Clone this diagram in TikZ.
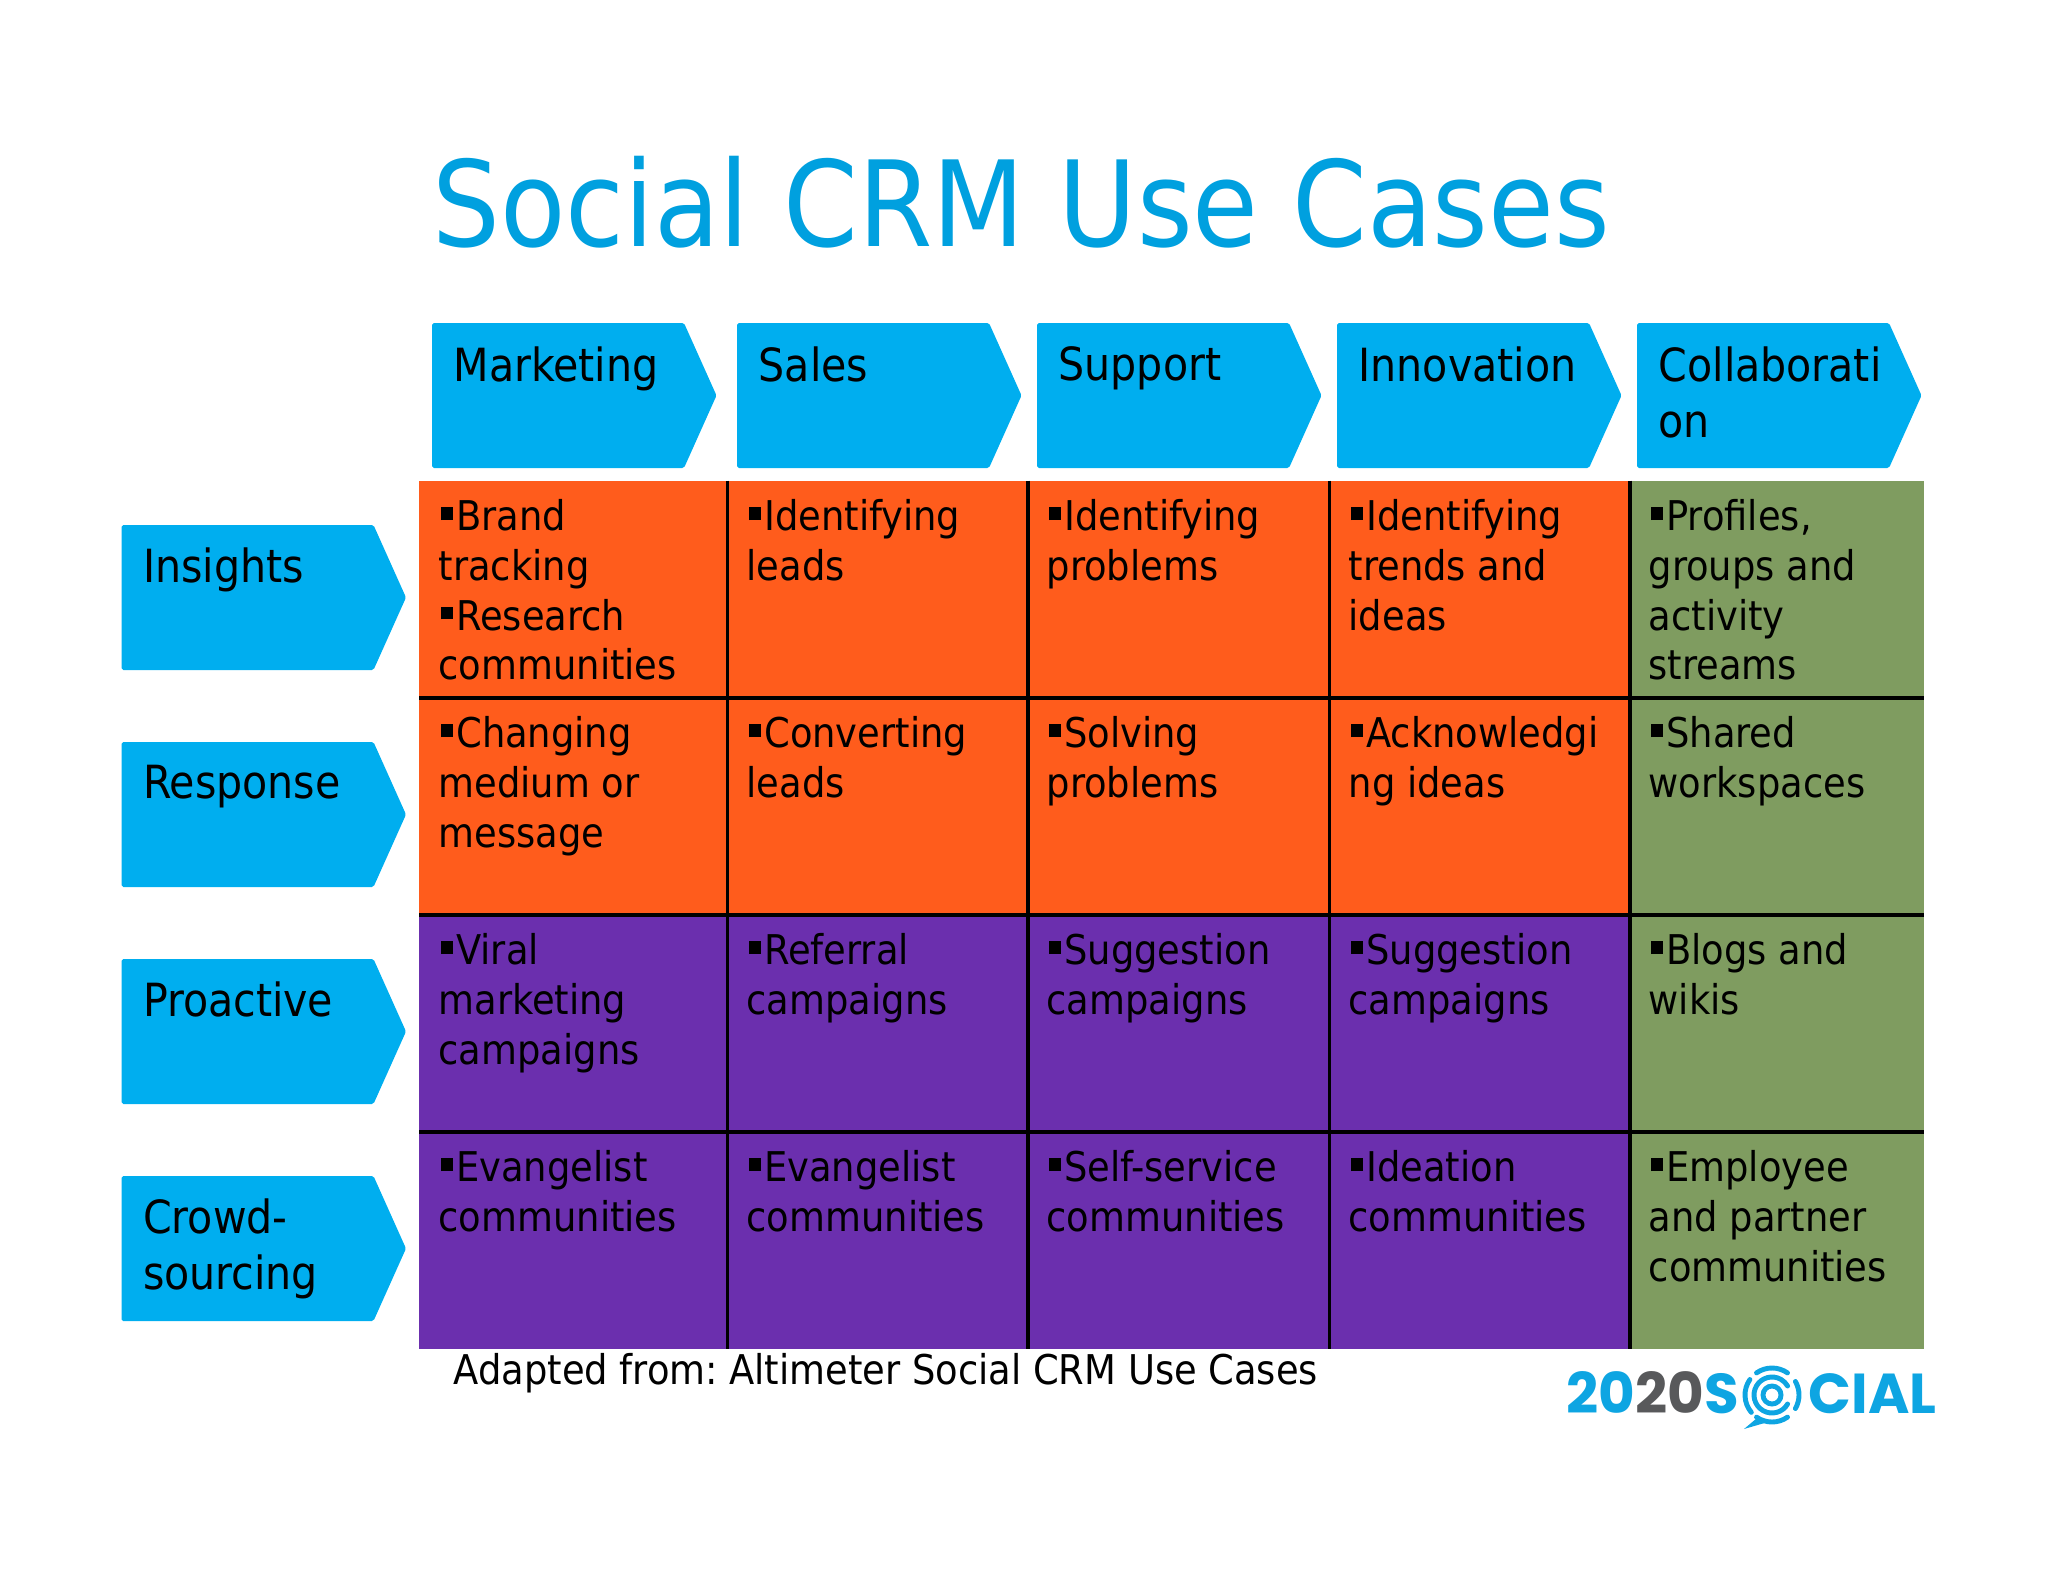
\documentclass[tikz,border=0pt]{standalone}
\usepackage{fontspec}
\setmainfont{DejaVu Sans Condensed}
\newfontfamily\logofont{Poppins}[BoldFont={Poppins Bold}]
\definecolor{crmblue}{HTML}{00AEEF}
\definecolor{titleblue}{HTML}{00A0DF}
\definecolor{crmorange}{HTML}{FF5C1C}
\definecolor{crmpurple}{HTML}{6B2FAE}
\definecolor{crmgreen}{HTML}{7F9C60}
\definecolor{logoblue}{HTML}{0EA5E2}
\definecolor{logogrey}{HTML}{58595B}
\frenchspacing
\newcommand{\chevron}[2]{\fill [crmblue, rounded corners=0.5pt] (#1,#2) -- ++(252,0) -- ++(32.5,72.5) -- ++(-32.5,72.5) -- ++(-252,0) -- cycle;}
\newcommand{\cellmark}{\hspace{0.05em}\rule[0.26em]{0.31em}{0.31em}\hspace{0.07em}}
\tikzset{
	headtext/.style={anchor=north west, inner sep=0pt, align=left, font=\fontsize{13}{16}\selectfont},
	celltext/.style={anchor=north west, inner sep=0pt, align=left, font=\fontsize{11.65}{14.1}\selectfont},
	gridline/.style={line width=0.95pt, black},
	ring/.style={logoblue, line width=1.4pt, line cap=round}
}
\begin{document}
\begin{tikzpicture}[x=0.01cm, y=-0.01cm]
	\useasboundingbox (0,0) rectangle (2048,1582);
	\node (title) [anchor=base west, inner sep=0pt, text=titleblue, font=\fontsize{33.8}{40}\selectfont] at (432,246) {Social CRM Use Cases};

	\chevron{432}{323}
	\chevron{737}{323}
	\chevron{1037}{323}
	\chevron{1337}{323}
	\chevron{1637}{323}
	\node (marketing) [headtext] at (453,346) {Marketing};
	\node (sales) [headtext] at (758,346) {Sales};
	\node (support) [headtext] at (1058,346) {Support};
	\node (innovation) [headtext] at (1358,346) {Innovation};
	\node (collaboration) [headtext] at (1658,346) {Collaborati\\on};

	\chevron{121.5}{525}
	\chevron{121.5}{742}
	\chevron{121.5}{959}
	\chevron{121.5}{1176}
	\node (insights) [headtext] at (142.5,547) {Insights};
	\node (response) [headtext] at (142.5,764) {Response};
	\node (proactive) [headtext] at (142.5,981) {Proactive};
	\node (crowdsourcing) [headtext] at (142.5,1198) {Crowd-\\sourcing};

	\fill [crmorange] (419,480.5) rectangle (1630,915);
	\fill [crmpurple] (419,915) rectangle (1630,1349);
	\fill [crmgreen] (1630,480.5) rectangle (1924,1349);
	\draw [gridline] (419,698) -- (1924,698);
	\draw [gridline] (419,915) -- (1924,915);
	\draw [gridline] (419,1132) -- (1924,1132);
	\draw [gridline] (727.5,480.5) -- (727.5,1349);
	\draw [gridline] (1028,480.5) -- (1028,1349);
	\draw [gridline] (1329.5,480.5) -- (1329.5,1349);
	\draw [gridline, line width=1.1pt] (1630,480.5) -- (1630,1349);

	\node (brand) [celltext] at (438,499) {\cellmark Brand\\tracking\\\cellmark Research\\communities};
	\node (idleads) [celltext] at (746,499) {\cellmark Identifying\\leads};
	\node (idproblems) [celltext] at (1046,499) {\cellmark Identifying\\problems};
	\node (idtrends) [celltext] at (1348,499) {\cellmark Identifying\\trends and\\ideas};
	\node (profiles) [celltext] at (1648,499) {\cellmark Profiles,\\groups and\\activity\\streams};

	\node (changing) [celltext] at (438,716) {\cellmark Changing\\medium or\\message};
	\node (converting) [celltext] at (746,716) {\cellmark Converting\\leads};
	\node (solving) [celltext] at (1046,716) {\cellmark Solving\\problems};
	\node (acknowledging) [celltext] at (1348,716) {\cellmark Acknowledgi\\ng ideas};
	\node (shared) [celltext] at (1648,716) {\cellmark Shared\\workspaces};

	\node (viral) [celltext] at (438,933) {\cellmark Viral\\marketing\\campaigns};
	\node (referral) [celltext] at (746,933) {\cellmark Referral\\campaigns};
	\node (suggestsupport) [celltext] at (1046,933) {\cellmark Suggestion\\campaigns};
	\node (suggestinnov) [celltext] at (1348,933) {\cellmark Suggestion\\campaigns};
	\node (blogs) [celltext] at (1648,933) {\cellmark Blogs and\\wikis};

	\node (evangelistmkt) [celltext] at (438,1150) {\cellmark Evangelist\\communities};
	\node (evangelistsales) [celltext] at (746,1150) {\cellmark Evangelist\\communities};
	\node (selfservice) [celltext] at (1046,1150) {\cellmark Self-service\\communities};
	\node (ideation) [celltext] at (1348,1150) {\cellmark Ideation\\communities};
	\node (employee) [celltext] at (1648,1150) {\cellmark Employee\\and partner\\communities};

	\node (adapted) [celltext] at (453,1353) {Adapted from: Altimeter Social CRM Use Cases};

	\node (logoleft) [anchor=base west, inner sep=0pt, font=\logofont\bfseries\fontsize{16}{16}\selectfont] at (1566,1413) {\textcolor{logoblue}{20}\textcolor{logogrey}{20}\textcolor{logoblue}{S}};
	\node (logoright) [anchor=base west, inner sep=0pt, text=logoblue, font=\logofont\bfseries\fontsize{16}{16}\selectfont] at (1808,1413) {CIAL};
	\draw [ring] (1772,1395) circle (9);
	\draw [ring] (1772,1395) ++(30:18) arc (30:330:18);
	\draw [ring] (1772,1395) ++(55:27) arc (55:125:27);
	\draw [ring] (1772,1395) ++(140:27) arc (140:215:27);
	\draw [ring] (1772,1395) ++(235:27) arc (235:305:27);
	\draw [ring] (1772,1395) ++(-30:27) arc (-30:30:27);
	\fill [logoblue] (1757,1418) -- (1744,1429) -- (1768,1422) -- cycle;
\end{tikzpicture}
\end{document}
